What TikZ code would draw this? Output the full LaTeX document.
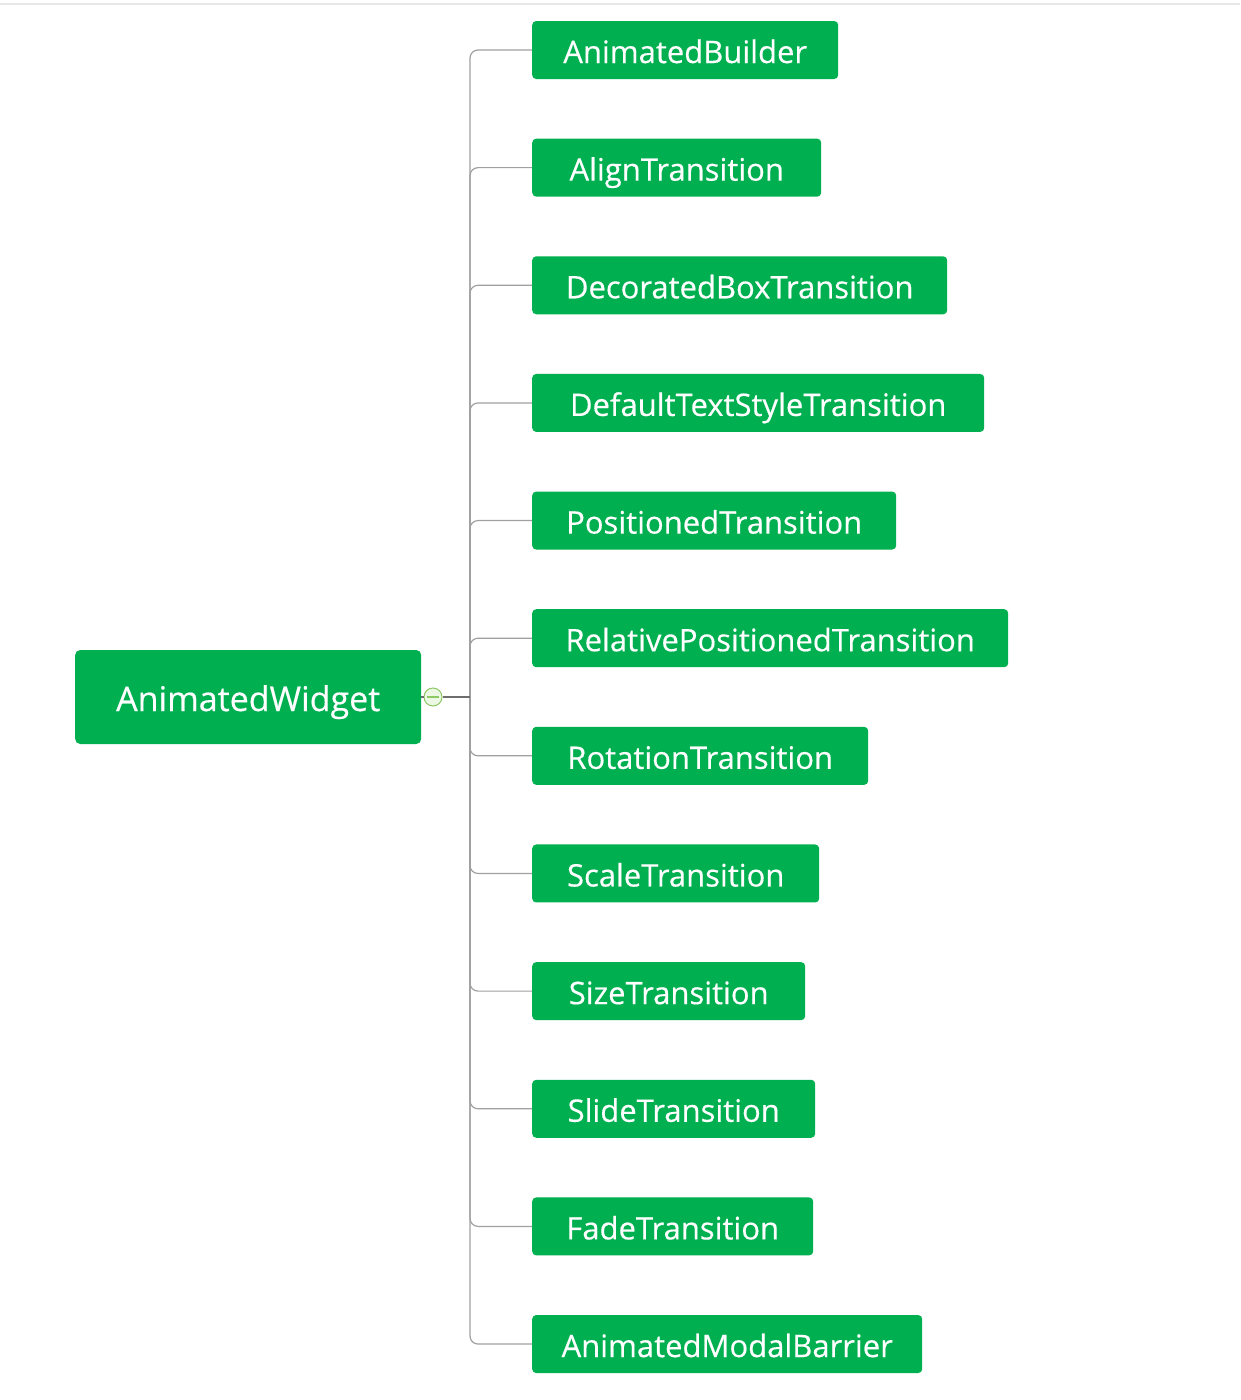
\documentclass[tikz,border=0pt]{standalone}
\usepackage{fontspec}
\setmainfont{Open Sans}
\newfontfamily\boxfont{Open Sans}[FakeBold=0.4]
\definecolor{boxgreen}{RGB}{0,176,80}
\definecolor{branch}{RGB}{160,160,160}
\definecolor{rootline}{RGB}{110,110,110}
\definecolor{togglefill}{RGB}{236,247,228}
\definecolor{toggleline}{RGB}{140,200,100}
\definecolor{topline}{RGB}{232,232,232}
\tikzset{
  childbox/.style={draw=none, fill=boxgreen, rounded corners=4pt, text=white,
    anchor=west, minimum height=58pt, inner sep=0pt, text height=30pt, text depth=4pt,
    font=\boxfont\fontsize{31}{36}\selectfont},
  rootbox/.style={draw=none, fill=boxgreen, rounded corners=5pt, text=white,
    anchor=west, minimum height=94pt, inner sep=0pt, text height=34pt, text depth=6pt,
    font=\boxfont\fontsize{34}{40}\selectfont},
  conn/.style={draw=branch, line width=1.2pt, rounded corners=8pt},
}
\begin{document}
\begin{tikzpicture}[x=1pt,y=-1pt]
\useasboundingbox (0,0) rectangle (1240,1400);
\draw[topline, line width=1.5pt] (0,4) -- (1240,4);
\node[rootbox, minimum width=346pt] (root) at (75,697) {AnimatedWidget};
\coordinate (j) at (470,697);
\foreach \i/\name/\w/\txt in {
  0/c0/306/AnimatedBuilder,
  1/c1/289/AlignTransition,
  2/c2/415/DecoratedBoxTransition,
  3/c3/452/DefaultTextStyleTransition,
  4/c4/364/PositionedTransition,
  5/c5/476/RelativePositionedTransition,
  6/c6/336/RotationTransition,
  7/c7/287/ScaleTransition,
  8/c8/273/SizeTransition,
  9/c9/283/SlideTransition,
  10/c10/281/FadeTransition,
  11/c11/390/AnimatedModalBarrier}{
  \node[childbox, minimum width=\w pt] (\name) at (532,{50+117.64*\i}) {\txt};
  \draw[conn] (j) |- (\name.west);
}
\node[circle, draw=toggleline, fill=togglefill, line width=1pt, minimum size=18pt, inner sep=0pt] (tog) at (433,697) {};
\draw[rootline, line width=1.4pt] (root.east) -- (tog.west);
\draw[rootline, line width=1.4pt] (tog.east) -- (j);
\draw[toggleline, line width=1.4pt] ([xshift=-6pt]tog.center) -- ([xshift=6pt]tog.center);
\end{tikzpicture}
\end{document}
